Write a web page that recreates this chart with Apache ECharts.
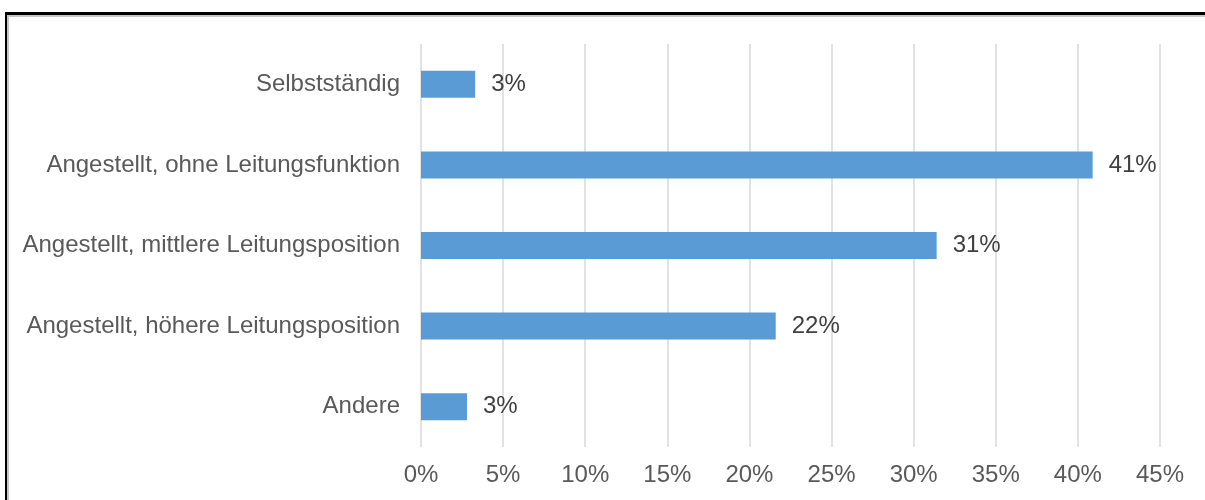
<!DOCTYPE html>
<html>
<head>
<meta charset="utf-8">
<script src="https://cdn.jsdelivr.net/npm/echarts@6/dist/echarts.min.js"></script>
<style>
  html, body { margin: 0; padding: 0; background: #fff; }
  #wrap { position: relative; width: 1205px; height: 500px; overflow: hidden; }
  #frame {
    position: absolute; left: 5px; top: 12px; width: 1300px; height: 600px;
    border-top: 3px solid #000; border-left: 2px solid #000;
    box-shadow: inset 2px 2px 0 #c8c8c8;
  }
  #chart { position: absolute; left: 0; top: 0; width: 1205px; height: 500px; }
</style>
</head>
<body>
<div id="wrap">
  <div id="frame"></div>
  <div id="chart"></div>
</div>
<script>
// Berufliche Stellung der Befragten (Anteile in %)
const categories = [
  'Selbstständig',
  'Angestellt, ohne Leitungsfunktion',
  'Angestellt, mittlere Leitungsposition',
  'Angestellt, höhere Leitungsposition',
  'Andere'
];
const shares = [3.3, 40.9, 31.4, 21.6, 2.8];
const axisTicks = [0, 5, 10, 15, 20, 25, 30, 35, 40, 45];

const fontFamily = '"Liberation Sans", Arial, sans-serif';
const chart = echarts.init(document.getElementById('chart'), null, { renderer: 'canvas' });

chart.setOption({
  backgroundColor: 'transparent',
  animation: false,
  grid: { left: 421, right: 45, top: 44, bottom: 53, containLabel: false },
  xAxis: {
    type: 'value',
    min: axisTicks[0],
    max: axisTicks[axisTicks.length - 1],
    interval: axisTicks[1] - axisTicks[0],
    axisLine: { show: false },
    axisTick: { show: false },
    splitLine: { show: true, lineStyle: { color: '#d9d9d9', width: 1.5 } },
    axisLabel: {
      color: '#595959', fontSize: 24, fontFamily: fontFamily, margin: 16,
      formatter: v => v + '%'
    }
  },
  yAxis: {
    type: 'category',
    data: categories,
    inverse: true,
    axisLine: { show: false },
    axisTick: { show: false },
    axisLabel: { color: '#595959', fontSize: 24, fontFamily: fontFamily, margin: 21 }
  },
  series: [{
    type: 'bar',
    data: shares,
    barWidth: 27,
    itemStyle: { color: '#5b9bd5' },
    label: {
      show: true, position: 'right', distance: 16,
      color: '#404040', fontSize: 24, fontFamily: fontFamily,
      formatter: p => Math.round(p.value) + '%'
    }
  }]
});
</script>
</body>
</html>
